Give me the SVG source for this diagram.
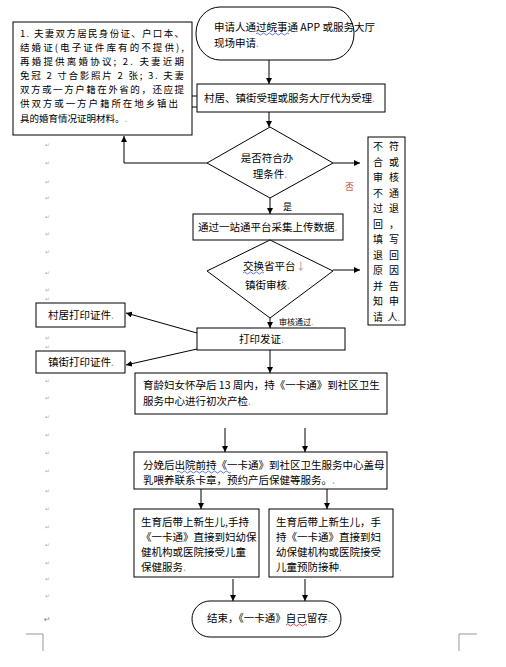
<svg xmlns="http://www.w3.org/2000/svg" width="506" height="667" viewBox="0 0 506 667">
<defs>
<marker id="ah" viewBox="0 0 10 10" refX="10" refY="5" markerWidth="6" markerHeight="6" orient="auto" markerUnits="userSpaceOnUse">
<path d="M0,0 L10,5 L0,10 z" fill="#000"/>
</marker>
</defs>
<style>
.b{fill:#fff;stroke:#000;stroke-width:1}
.t{font-family:"Noto Sans CJK SC","Liberation Sans",sans-serif;font-size:10.5px;fill:#000}
.s{font-family:"Noto Sans CJK SC","Liberation Sans",sans-serif;font-size:9.5px;fill:#000}
.m{font-family:"DejaVu Sans",sans-serif;font-size:6px;fill:#b0b0b0}
.c{stroke:#000;stroke-width:1;fill:none}
.a{marker-end:url(#ah)}
.w{fill:none;stroke-width:0.8}
.g{fill:#999}
</style>
<rect width="506" height="667" fill="#fff"/>

<g id="margin">
<text class="m" x="45" y="147">↵</text>
<text class="m" x="45" y="165">↵</text>
<text class="m" x="45" y="184">↵</text>
<text class="m" x="45" y="200">↵</text>
<text class="m" x="45" y="219">↵</text>
<text class="m" x="45" y="236">↵</text>
<text class="m" x="45" y="254">↵</text>
<text class="m" x="45" y="275">↵</text>
<text class="m" x="45" y="292">↵</text>
<text class="m" x="45" y="301">↵</text>
<text class="m" x="45" y="340">↵</text>
<text class="m" x="45" y="349">↵</text>
<text class="m" x="45" y="383">↵</text>
<text class="m" x="45" y="400">↵</text>
<text class="m" x="45" y="419">↵</text>
<text class="m" x="45" y="437">↵</text>
<text class="m" x="45" y="455">↵</text>
<text class="m" x="45" y="473">↵</text>
<text class="m" x="45" y="493">↵</text>
<text class="m" x="45" y="511">↵</text>
<text class="m" x="45" y="529">↵</text>
<text class="m" x="45" y="547">↵</text>
<text class="m" x="45" y="565">↵</text>
<text class="m" x="45" y="581">↵</text>
<text class="m" x="45" y="598">↵</text>
<text x="44" y="622" style="font-family:'DejaVu Sans',sans-serif;font-size:8px;fill:#888">↵</text>
<path d="M26,634 H43 V651 M477,634 H459 V651" stroke="#999" stroke-width="1" fill="none"/>
</g>

<g id="connectors">
<line class="c a" x1="269" y1="60" x2="269" y2="84"/>
<line class="c a" x1="269" y1="112" x2="269" y2="127"/>
<line class="c a" x1="333" y1="163" x2="360" y2="163"/>
<polyline class="c a" points="207,163 124,163 124,136"/>
<line class="c a" x1="270" y1="198" x2="270" y2="214"/>
<line class="c a" x1="333" y1="270" x2="360" y2="270"/>
<line class="c a" x1="270" y1="318" x2="270" y2="328"/>
<line class="c a" x1="197" y1="333" x2="126" y2="313"/>
<line class="c a" x1="197" y1="349" x2="126" y2="365"/>
<line class="c a" x1="270" y1="350" x2="270" y2="373"/>
<line class="c a" x1="225" y1="428" x2="225" y2="452"/>
<line class="c a" x1="305" y1="428" x2="305" y2="452"/>
<line class="c a" x1="201" y1="489" x2="201" y2="509"/>
<line class="c a" x1="327" y1="489" x2="327" y2="509"/>
<line class="c a" x1="233" y1="579" x2="233" y2="601"/>
<line class="c a" x1="305" y1="579" x2="305" y2="601"/>
<line class="c" x1="192" y1="96" x2="197" y2="96"/>
<line class="c" x1="192" y1="107" x2="197" y2="107"/>
<text class="s" x="345" y="190" style="fill:#c0392b;font-size:9px">否</text>
<text class="s" x="283" y="210" style="font-size:9px">是</text>
<text class="s" x="279" y="325" style="font-size:8px">审核通过<tspan class="g">.</tspan></text>
</g>

<g id="n_materials">
<rect class="b" x="13" y="22" width="179" height="113"/>
<text class="s" x="20" y="37" textLength="164" lengthAdjust="spacing">1. 夫妻双方居民身份证、户口本、</text>
<text class="s" x="20" y="51" textLength="164" lengthAdjust="spacing">结婚证(电子证件库有的不提供),</text>
<text class="s" x="20" y="65" textLength="164" lengthAdjust="spacing">再婚提供离婚协议; 2. 夫妻近期</text>
<text class="s" x="20" y="79" textLength="164" lengthAdjust="spacing">免冠 2 寸合影照片 2 张; 3. 夫妻</text>
<text class="s" x="20" y="93" textLength="164" lengthAdjust="spacing">双方或一方户籍在外省的，还应提</text>
<text class="s" x="20" y="107" textLength="158" lengthAdjust="spacing">供双方或一方户籍所在地乡镇出</text>
<text class="s" x="20" y="122">具的婚育情况证明材料。<tspan class="g">.</tspan></text>
</g>

<g id="n_start">
<rect class="b" x="196" y="7" width="158" height="53" rx="24" ry="26"/>
<text class="t" x="214" y="31">申请人通过皖事通 APP 或服务大厅</text>
<text class="t" x="214" y="47">现场申请<tspan class="g">.</tspan></text>
<path class="w" stroke="#3355cc" d="M256,34 q1.5,-2 3,0 t3,0 t3,0 t3,0 t3,0 t3,0 t3,0 t3,0 t3,0 t3,0 t3,0"/>
</g>

<g id="n_accept">
<rect class="b" x="197" y="84" width="188" height="28"/>
<text class="t" x="204" y="102">村居、镇街受理或服务大厅代为受理<tspan class="g">.</tspan></text>
</g>

<g id="n_check">
<polygon class="b" points="270,127 333,163 270,198 207,163"/>
<text class="t" x="267" y="162" text-anchor="middle">是否符合办</text>
<text class="t" x="270" y="178" text-anchor="middle">理条件<tspan class="g">.</tspan></text>
</g>

<g id="n_reject">
<rect class="b" x="368" y="137" width="37" height="188"/>
<g class="s" style="font-size:10px" text-anchor="middle">
<text x="378" y="150">不</text><text x="394" y="150">符</text>
<text x="378" y="165.5">合</text><text x="394" y="165.5">或</text>
<text x="378" y="181">审</text><text x="394" y="181">核</text>
<text x="378" y="196.5">不</text><text x="394" y="196.5">通</text>
<text x="378" y="212">过</text><text x="394" y="212">退</text>
<text x="378" y="227.5">回</text><text x="394" y="227.5">，</text>
<text x="378" y="243">填</text><text x="394" y="243">写</text>
<text x="378" y="258.5">退</text><text x="394" y="258.5">回</text>
<text x="378" y="274">原</text><text x="394" y="274">因</text>
<text x="378" y="289.5">并</text><text x="394" y="289.5">告</text>
<text x="378" y="305">知</text><text x="394" y="305">申</text>
<text x="378" y="320.5">请</text><text x="394" y="320.5">人<tspan class="g">.</tspan></text>
</g>
</g>

<g id="n_upload">
<rect class="b" x="193" y="214" width="150" height="26"/>
<text class="t" x="198" y="231">通过一站通平台采集上传数据<tspan class="g">.</tspan></text>
</g>

<g id="n_review">
<polygon class="b" points="270,240 333,271 270,318 207,271"/>
<text class="t" x="243" y="270">交换省平台<tspan class="g">↓</tspan></text>
<text class="t" x="245" y="289">镇街审核<tspan class="g">.</tspan></text>
<path class="w" stroke="#3355cc" d="M243,273 q1.5,-2 3,0 t3,0 t3,0 t3,0 t3,0 t3,0 t3,0"/>
</g>

<g id="n_print">
<rect class="b" x="197" y="328" width="148" height="22"/>
<text class="t" x="239" y="343">打印发证<tspan class="g">.</tspan></text>
</g>

<g id="n_village">
<rect class="b" x="36" y="303" width="89" height="24"/>
<text class="t" x="48" y="319">村居打印证件<tspan class="g">.</tspan></text>
</g>

<g id="n_town">
<rect class="b" x="36" y="351" width="89" height="22"/>
<text class="t" x="48" y="366">镇街打印证件<tspan class="g">.</tspan></text>
</g>

<g id="n_prenatal">
<rect class="b" x="135" y="373" width="252" height="41"/>
<text class="t" x="143" y="389">育龄妇女怀孕后 13 周内，持《一卡通》到社区卫生</text>
<text class="t" x="143" y="405">服务中心进行初次产检<tspan class="g">.</tspan></text>
</g>

<g id="n_postnatal">
<rect class="b" x="134" y="452" width="253" height="37"/>
<text class="t" x="143" y="469">分娩后出院前持《一卡通》到社区卫生服务中心盖母</text>
<text class="t" x="143" y="484">乳喂养联系卡章，预约产后保健等服务。<tspan class="g">.</tspan></text>
<path class="w" stroke="#3355cc" d="M177,472 q1.5,-2 3,0 t3,0 t3,0 t3,0 t3,0 t3,0 t3,0 t3,0 t3,0 t3,0 t3,0 t3,0 t3,0 t3,0 t3,0 t3,0 t3,0 t3,0"/>
</g>

<g id="n_childcare">
<rect class="b" x="134" y="509" width="125" height="68"/>
<text class="t" x="141" y="526">生育后带上新生儿,手持</text>
<text class="t" x="141" y="541">《一卡通》直接到妇幼保</text>
<text class="t" x="141" y="556">健机构或医院接受儿童</text>
<text class="t" x="141" y="571">保健服务<tspan class="g">.</tspan></text>
</g>

<g id="n_vaccine">
<rect class="b" x="269" y="509" width="124" height="68"/>
<text class="t" x="276" y="526">生育后带上新生儿，手</text>
<text class="t" x="276" y="541">持《一卡通》直接到妇</text>
<text class="t" x="276" y="556">幼保健机构或医院接受</text>
<text class="t" x="276" y="571">儿童预防接种<tspan class="g">.</tspan></text>
</g>

<g id="n_end">
<rect class="b" x="192" y="601" width="149" height="36" rx="18" ry="18"/>
<text class="t" x="207" y="622">结束，《一卡通》自己留存<tspan class="g">.</tspan></text>
<path class="w" stroke="#cc2222" d="M286,625 q1.5,-2 3,0 t3,0 t3,0 t3,0 t3,0 t3,0 t3,0"/>
</g>
</svg>
